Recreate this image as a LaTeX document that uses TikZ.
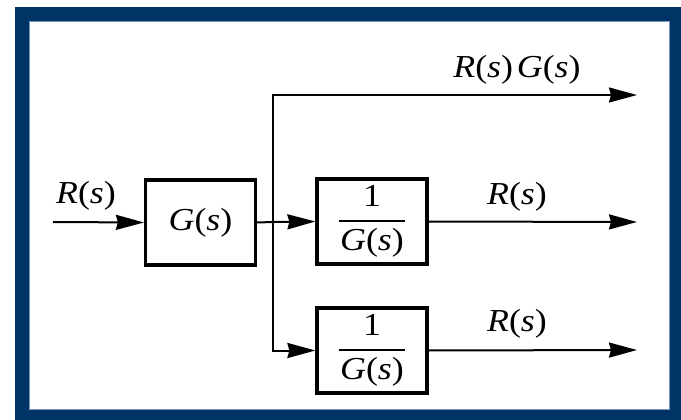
\RequirePackage{fix-cm}
\documentclass[tikz,border=0pt]{standalone}
\usepackage{amsmath}
\usepackage{fontspec}
\setmainfont{Liberation Serif}[FakeStretch=1.12]
\usetikzlibrary{arrows.meta}
\definecolor{frameblue}{RGB}{0,51,102}
\definecolor{frameedge}{RGB}{120,150,195}
\newcommand{\Rs}{\textit{R}(\textit{s})}
\newcommand{\Gs}{\textit{G}(\textit{s})}
\newcommand{\invG}{$\displaystyle\genfrac{}{}{2pt}{0}{\text{1}}{\text{\kern0.05em\Gs\kern0.05em}}$}
\tikzset{
  blk/.style={draw, line width=3.2pt, minimum width=110pt, minimum height=85pt, inner sep=0pt},
  conn/.style={line width=2pt},
  tip/.style={-{Stealth[length=28pt,width=15pt,inset=2pt]}},
  lbl/.style={inner sep=0pt}
}
\begin{document}
\begin{tikzpicture}[x=1pt,y=-1pt,font=\fontsize{32}{36}\selectfont]
\useasboundingbox (0,0) rectangle (681,420);
% frame
\fill[frameblue] (15,7) rectangle (681,420);
\fill[white] (29,21) rectangle (670,410);
\draw[frameedge, line width=1pt] (29.5,21.5) rectangle (669.5,409.5);
% blocks
\node[blk] (g)  at (200.5,222.5) {\Gs};
\node[blk] (b2) at (372,221.5) {\invG};
\node[blk] (b3) at (372,350.5) {\invG};
% points
\coordinate (in) at (53,222);
\coordinate (split) at (273,222);
\coordinate (o1) at (637,95);
\coordinate (o2) at (637,222);
\coordinate (o3) at (637,350);
% connectors
\draw[conn,tip] (in) -- (g.west);
\draw[conn] (g.east) -- (split);
\draw[conn,tip] (split) -- (b2.west);
\draw[conn,tip] (split) |- (o1);
\draw[conn,tip] (split) |- (b3.west);
\draw[conn,tip] (b2.east) -- (o2);
\draw[conn,tip] (b3.east) -- (o3);
% signal labels
\node[lbl] (lin) at (86,196) {\Rs};
\node[lbl] (l1) at (517,70) {\Rs\hspace{0.12em}\Gs};
\node[lbl] (l2) at (517,197) {\Rs};
\node[lbl] (l3) at (517,324) {\Rs};
\end{tikzpicture}
\end{document}
